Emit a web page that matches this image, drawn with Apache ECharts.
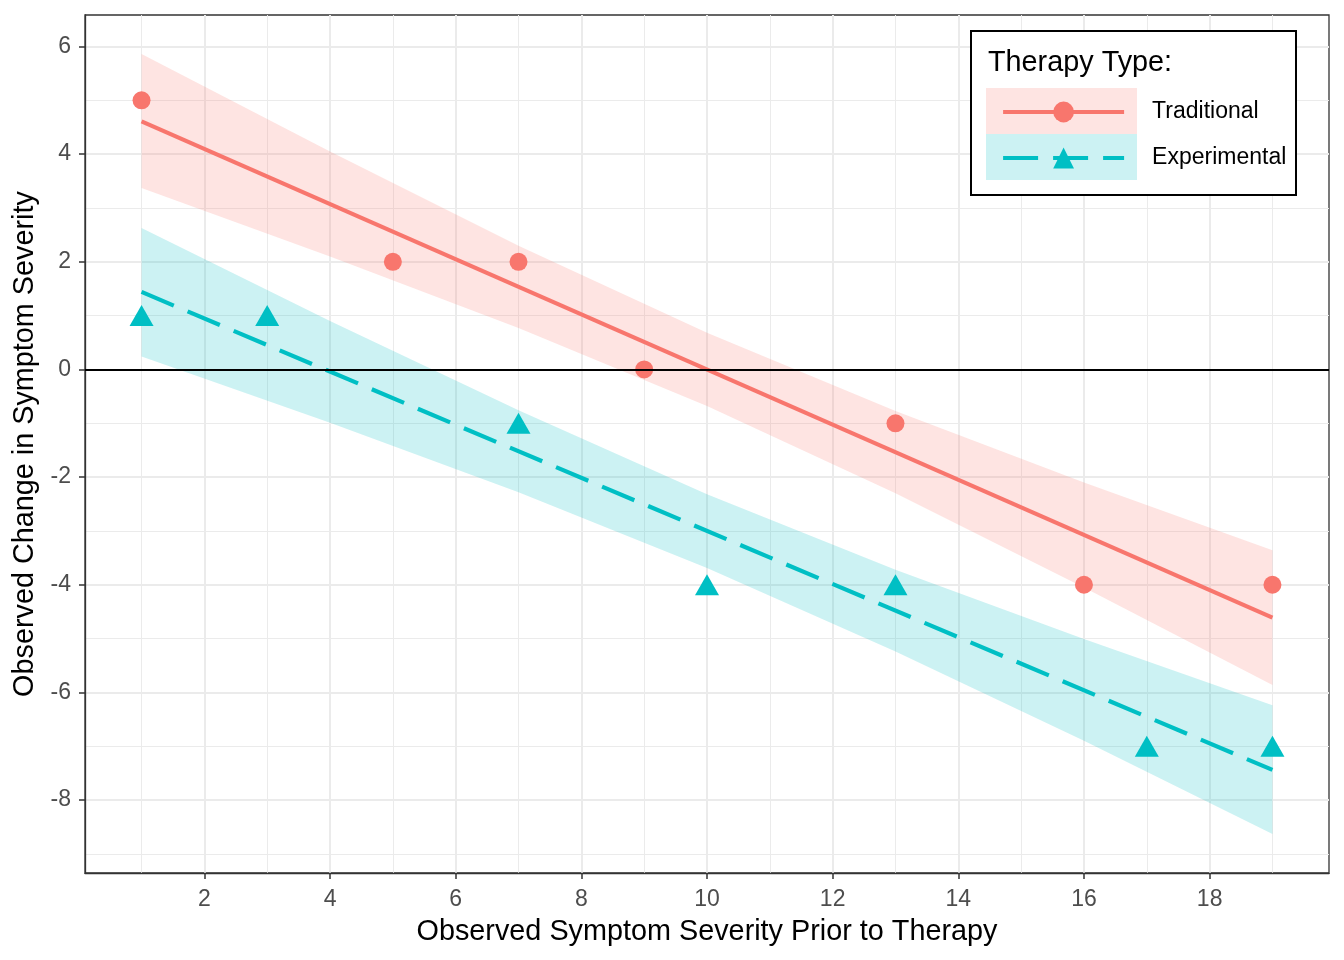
<!DOCTYPE html>
<html><head><meta charset="utf-8">
<script src="https://cdn.jsdelivr.net/npm/echarts@6/dist/echarts.min.js"></script>
<style>html,body{margin:0;padding:0;background:#fff}#chart{width:1344px;height:960px}</style>
</head><body><div id="chart"></div>
<script>
// Observed data
const tradX = [1, 5, 7, 9, 13, 16, 19];
const tradY = [5, 2, 2, 0, -1, -4, -4];
const expX = [1, 3, 7, 10, 13, 17, 19];
const expY = [1, 1, -1, -4, -4, -7, -7];
// Fitted lines (ends)
const fitX = [1, 19];
const tradFit = [4.61, -4.61];
const expFit = [1.44, -7.44];
// Confidence ribbons read at these x positions
const bandX = [1, 4, 7, 10, 13, 16, 19];
const tradUpper = [5.86, 4.05, 2.30, 0.68, -0.77, -2.10, -3.36];
const tradLower = [3.37, 2.10, 0.77, -0.68, -2.30, -4.05, -5.86];
const expUpper = [2.63, 0.90, -0.76, -2.32, -3.72, -5.01, -6.24];
const expLower = [0.24, -0.99, -2.28, -3.69, -5.24, -6.90, -8.63];
// Tick labels
const xTicks = [2, 4, 6, 8, 10, 12, 14, 16, 18];
const yTicks = [-8, -6, -4, -2, 0, 2, 4, 6];
const seriesNames = ['Traditional', 'Experimental'];
const legendTitle = 'Therapy Type:';

const FONT = '"Liberation Sans", Arial, sans-serif';
const RED = '#F8766D', CYAN = '#00BFC4';

function band(name, upper, lower, color) {
  return {
    type: 'custom', name: name, silent: true, z: 1,
    data: bandX.map((x, i) => [x, lower[i], upper[i]]),
    encode: { x: 0, y: [1, 2] },
    renderItem: function (params, api) {
      if (params.dataIndex !== 0) return null;
      const pts = [];
      for (let i = 0; i < bandX.length; i++) pts.push(api.coord([bandX[i], upper[i]]));
      for (let i = bandX.length - 1; i >= 0; i--) pts.push(api.coord([bandX[i], lower[i]]));
      return { type: 'polygon', shape: { points: pts }, style: { fill: color } };
    }
  };
}

const chart = echarts.init(document.getElementById('chart'), null, { renderer: 'canvas' });
chart.setOption({
  animation: false,
  backgroundColor: '#fff',
  grid: { left: 85, right: 15, top: 15, bottom: 87, show: true, borderColor: '#333', borderWidth: 1.3, backgroundColor: 'transparent' },
  xAxis: {
    type: 'value', min: 0.1, max: 19.9, splitNumber: 10,
    name: 'Observed Symptom Severity Prior to Therapy', nameLocation: 'middle', nameGap: 45,
    nameTextStyle: { fontSize: 28.8, color: '#000', fontFamily: FONT },
    axisLine: { show: true, onZero: false, lineStyle: { color: '#333', width: 1.3 } },
    axisTick: { show: true, length: 6, customValues: xTicks, lineStyle: { color: '#333', width: 1.5 } },
    axisLabel: { customValues: xTicks, fontSize: 23, color: '#4D4D4D', margin: 15, fontFamily: FONT },
    splitLine: { show: true, lineStyle: { color: '#EBEBEB', width: 2 } },
    minorTick: { show: false, splitNumber: 2 },
    minorSplitLine: { show: true, lineStyle: { color: '#EBEBEB', width: 1 } }
  },
  yAxis: {
    type: 'value', min: -9.355, max: 6.585, splitNumber: 8,
    name: 'Observed Change in Symptom Severity', nameLocation: 'middle', nameGap: 34,
    nameTextStyle: { fontSize: 28.8, color: '#000', fontFamily: FONT },
    axisLine: { show: true, onZero: false, lineStyle: { color: '#333', width: 1.3 } },
    axisTick: { show: true, length: 6, customValues: yTicks, lineStyle: { color: '#333', width: 1.5 } },
    axisLabel: { customValues: yTicks, fontSize: 23, color: '#4D4D4D', margin: 14, fontFamily: FONT },
    splitLine: { show: true, lineStyle: { color: '#EBEBEB', width: 2 } },
    minorTick: { show: false, splitNumber: 2 },
    minorSplitLine: { show: true, lineStyle: { color: '#EBEBEB', width: 1 } }
  },
  legend: {
    data: seriesNames, orient: 'vertical', left: 1001, top: 99, padding: 0,
    itemWidth: 121, itemHeight: 26, itemGap: 20, selectedMode: false,
    lineStyle: { width: 4.2 },
    textStyle: { fontSize: 23, lineHeight: 21, color: '#000', fontFamily: FONT, padding: [5, 0, 0, 23] }
  },
  graphic: [
    { type: 'rect', z: 3, shape: { x: 971, y: 31, width: 325, height: 164 }, style: { fill: '#fff', stroke: '#000', lineWidth: 2 } },
    { type: 'rect', z: 3.5, shape: { x: 986, y: 88, width: 151, height: 46 }, style: { fill: 'rgba(248,118,109,0.2)' } },
    { type: 'rect', z: 3.5, shape: { x: 986, y: 134, width: 151, height: 46 }, style: { fill: 'rgba(0,191,196,0.2)' } },
    { type: 'text', z: 3.5, x: 988, y: 49, style: { text: legendTitle, fontSize: 28.8, fill: '#000', fontFamily: FONT } }
  ],
  series: [
    band('Traditional band', tradUpper, tradLower, 'rgba(248,118,109,0.2)'),
    band('Experimental band', expUpper, expLower, 'rgba(0,191,196,0.2)'),
    {
      type: 'line', name: 'Traditional', z: 2,
      data: fitX.map((x, i) => [x, tradFit[i]]),
      symbol: 'circle', showSymbol: false, itemStyle: { color: RED },
      lineStyle: { color: RED, width: 4.2, type: 'solid' },
      markLine: { silent: true, symbol: 'none', label: { show: false },
        lineStyle: { color: '#000', width: 2, type: 'solid' }, data: [{ yAxis: 0 }] }
    },
    {
      type: 'line', name: 'Experimental', z: 2,
      data: fitX.map((x, i) => [x, expFit[i]]),
      symbol: 'triangle', showSymbol: false, itemStyle: { color: CYAN },
      lineStyle: { color: CYAN, width: 4.2, type: [35, 15] }
    },
    {
      type: 'scatter', name: 'Traditional points', z: 3,
      data: tradX.map((x, i) => [x, tradY[i]]),
      symbol: 'circle', symbolSize: 18, itemStyle: { color: RED, opacity: 1 }
    },
    {
      type: 'scatter', name: 'Experimental points', z: 3,
      data: expX.map((x, i) => [x, expY[i]]),
      symbol: 'triangle', symbolSize: [24, 21], itemStyle: { color: CYAN, opacity: 1 }
    }
  ]
});
</script></body></html>
